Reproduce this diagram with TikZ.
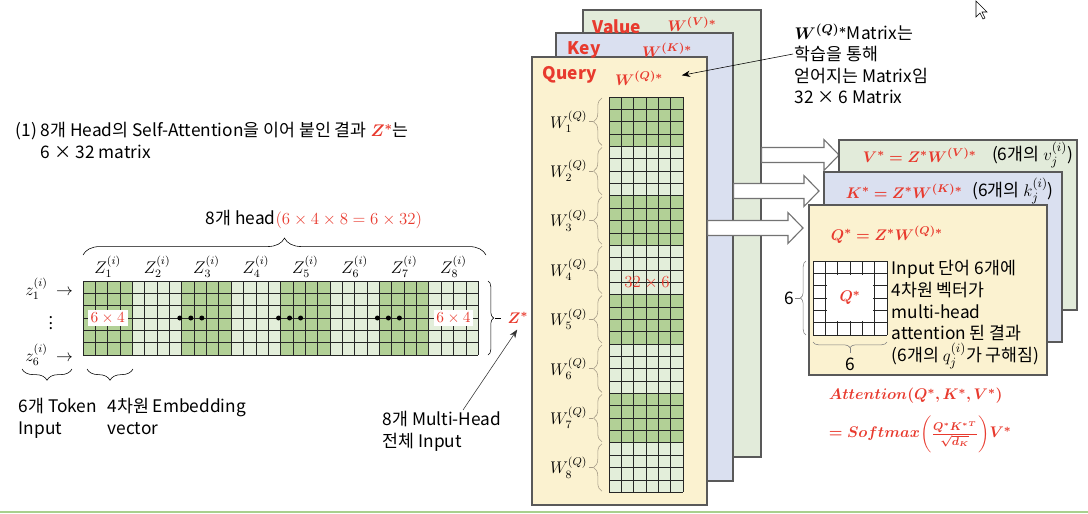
\documentclass[tikz,border=0pt]{standalone}
\usepackage{fontspec}
\setmainfont{Noto Sans CJK KR}
\usepackage{amsmath,bm}
\usetikzlibrary{positioning,arrows.meta,decorations.pathreplacing,fit,calc}

\definecolor{dkgreen}{RGB}{178,208,150}
\definecolor{ltgreen}{RGB}{227,238,218}
\definecolor{valfill}{RGB}{226,235,218}
\definecolor{keyfill}{RGB}{218,224,240}
\definecolor{qryfill}{RGB}{251,242,208}
\definecolor{hred}{RGB}{232,58,46}
\definecolor{bracegray}{RGB}{165,155,135}
\definecolor{bargreen}{RGB}{169,208,142}

\begin{document}
\begin{tikzpicture}[x=0.025cm,y=-0.025cm,font=\fontsize{12.3}{15.3}\selectfont,
  cell/.style={line width=0.5pt,black!85},
  panel/.style={draw=black!65,line width=0.9pt,inner sep=0pt},
  mathlab/.style={font=\fontsize{11.6}{13}\selectfont},
  redword/.style={text=hred,font=\fontsize{12.3}{15.3}\selectfont\bfseries},
  redmath/.style={text=hred,font=\fontsize{10.8}{13}\selectfont},
  bracedeco/.style={decorate,decoration={brace,amplitude=#1}},
  txt/.style={align=left,inner sep=1pt},
  fatarrow/.style={draw=black!55,fill=white,line width=0.8pt,
    to path={let \p1=(\tikztostart),\p2=(\tikztotarget) in
      ({\x1},{\y1+5.3pt}) -- ({\x2-10.7pt},{\y1+5.3pt}) -- ({\x2-10.7pt},{\y1+11pt})
      -- ({\x2},{\y1}) -- ({\x2-10.7pt},{\y1-11pt}) -- ({\x2-10.7pt},{\y1-5.3pt})
      -- ({\x1},{\y1-5.3pt}) -- cycle}}]
\useasboundingbox (0,0) rectangle (1088,514);

% Title on the left
\node[txt,anchor=north west] (title) at (14,121) {(1) 8개 Head의 Self-Attention을 이어 붙인 결과 \textcolor{hred}{$\bm{Z^*}$}는\\\hspace{18pt}6 × 32 matrix};

% Z* matrix: 8 heads of 4 columns, 6 rows
\foreach \h/\hcol in {0/dkgreen,1/ltgreen,2/dkgreen,3/ltgreen,4/dkgreen,5/ltgreen,6/dkgreen,7/ltgreen}
  \fill[\hcol] (83+\h*49.4,281) rectangle ++(49.4,74.1);
\foreach \c in {0,...,32}
  \draw[cell] (83+\c*12.35,281) -- ++(0,74.1);
\foreach \r in {0,...,6}
  \draw[cell] (83,281+\r*12.35) -- ++(395.2,0);
\foreach \h in {1,...,8}
  \node[mathlab] (zh\h) at (83+\h*49.4-24.7,267) {$Z_{\h}^{(i)}$};
\node[redmath,fill=white,inner sep=2pt] (blka) at (107.7,318) {$6\times4$};
\node[redmath,fill=white,inner sep=2pt] (blkb) at (453.5,318) {$6\times4$};
\foreach \b in {2,4,6}
  \foreach \d in {0,1,2}
    \fill (83+\b*49.4-2+\d*11,318) circle (2.5);

% head brace
\draw[bracedeco=12pt] (83,255) -- (486,255);
\node (headlab) at (314,219) {8개 head\textcolor{hred}{$(6\times4\times8=6\times32)$}};

% Z* brace on the right
\draw[bracedeco=4pt] (488,281) -- (488,355);
\coordinate (ztip) at (495,318);
\node[redmath] (zstar) at (518,318) {$\bm{Z^*}$};
\draw (ztip) -- ++(6,0);

% token rows
\node[mathlab,anchor=west,inner sep=0pt] (z1) at (25,289) {$z_1^{(i)}\ \rightarrow$};
\node[mathlab,inner sep=0pt] (zdots) at (51,319) {$\vdots$};
\node[mathlab,anchor=west,inner sep=0pt] (z6) at (25,355) {$z_6^{(i)}\ \rightarrow$};

% braces below
\draw[bracedeco=8pt] (72,369) -- (22,369);
\draw[bracedeco=8pt] (133,369) -- (87,369);
\node[txt,anchor=north west] (tok) at (17,397) {6개 Token\\Input};
\node[txt,anchor=north west] (emb) at (106,397) {4차원 Embedding\\vector};
\node[txt,anchor=north west] (mh) at (381,410) {8개 Multi-Head\\전체 Input};
\draw[-{Stealth[length=6pt]},black!80,shorten >=1pt] (mh.north -| 463,0) -- (zstar.south);

% W panels (Value, Key, Query)
\node[panel,fill=valfill,fit={(583,10) (761,457)}] (vpanel) {};
\node[panel,fill=keyfill,fit={(556,33) (733,481)}] (kpanel) {};
\node[panel,fill=qryfill,fit={(532,57) (707,505)}] (qpanel) {};
\node[redword,anchor=west] (vname) at (588,27) {Value};
\node[redmath] (wv) at (692,24) {$\bm{W^{(V)*}}$};
\node[redword,anchor=west] (kname) at (563,50) {Key};
\node[redmath] (wk) at (667,50) {$\bm{W^{(K)*}}$};
\node[redword,anchor=west] (qname) at (538,75) {Query};
\node[redmath] (wq) at (639,78) {$\bm{W^{(Q)*}}$};

% Query weight matrix 32 x 6
\foreach \b/\hcol in {0/dkgreen,1/ltgreen,2/dkgreen,3/ltgreen,4/dkgreen,5/ltgreen,6/dkgreen,7/ltgreen}
  \fill[\hcol] (609,97+\b*49.4) rectangle ++(74.1,49.4);
\foreach \c in {0,...,6}
  \draw[cell] (609+\c*12.35,97) -- ++(0,395.2);
\foreach \r in {0,...,32}
  \draw[cell] (609,97+\r*12.35) -- ++(74.1,0);
\node[redmath,font=\fontsize{12.5}{14}\selectfont] (qsize) at (647,283) {$32\times6$};
\foreach \k in {1,...,8} {
  \node[mathlab,anchor=east,inner sep=1pt] (w\k) at (589,{97+\k*49.4-24.7}) {$W_{\k}^{(Q)}$};
  \draw[bracegray,bracedeco=6pt] (602,{97+\k*49.4-1}) -- (602,{97+(\k-1)*49.4+1});
  \draw[bracegray] (w\k.east) -- ++(4,0);
}

% note on W^(Q)*
\node[txt,anchor=north west] (note) at (793,22) {$\bm{W^{(Q)*}}$Matrix는\\학습을 통해\\얻어지는 Matrix임\\32 × 6 Matrix};
\draw[-{Stealth[length=6pt]},shorten >=10pt] (note.west |- 0,54) -- (wq.east);

% fat arrows to the results
\draw[fatarrow] (vpanel.east |- 0,155) to (839,155);
\draw[fatarrow] (kpanel.east |- 0,191) to (819,191);
\draw[fatarrow] (qpanel.east |- 0,228) to (803,228);

% result panels
\node[panel,fill=valfill,fit={(839,140) (1077,310)}] (vout) {};
\node[panel,fill=keyfill,fit={(824,172) (1062,342)}] (kout) {};
\node[panel,fill=qryfill,fit={(809,205) (1047,375)}] (qout) {};
\node[redmath,anchor=west] (veq) at (858,155) {$\bm{V^*=Z^*W^{(V)*}}$};
\node[right=4pt of veq] (vnote) {(6개의 $v_j^{(i)}$)};
\node[redmath,anchor=west] (keq) at (841,191) {$\bm{K^*=Z^*W^{(K)*}}$};
\node[right=0pt of keq] (knote) {(6개의 $k_j^{(i)}$)};
\node[redmath,anchor=west] (qeq) at (826,235) {$\bm{Q^*=Z^*W^{(Q)*}}$};

% Q* 6 x 6
\fill[white] (813,261) rectangle ++(74.1,74.1);
\foreach \c in {0,...,6}
  \draw[cell] (813+\c*12.35,261) -- ++(0,74.1);
\foreach \r in {0,...,6}
  \draw[cell] (813,261+\r*12.35) -- ++(74.1,0);
\fill[white] (827,275) rectangle (873,321);
\node[redmath] (qstar) at (850,298) {$\bm{Q^*}$};
\draw[black!50,bracedeco=4pt] (806,335) -- (806,261);
\node (rows6) at (789,298) {6};
\draw[black!50] (795,298) -- ++(5,0);
\draw[black!50,bracedeco=4pt] (887,342) -- (813,342);
\node (cols6) at (850,364) {6};
\draw[black!50] (850,348) -- ++(0,5);
\node[txt,anchor=north west] (qtxt) at (890,259) {Input 단어 6개에\\4차원 벡터가\\multi-head\\attention 된 결과\\(6개의 $q_j^{(i)}$가 구해짐)};

% attention formula
\node[redmath,anchor=west] (attn1) at (824,396) {$\bm{Attention(Q^*,K^*,V^*)}$};
\node[redmath,anchor=west] (attn2) at (824,434) {$\bm{=Softmax}\biggl(\bm{\frac{Q^*{K^*}^T}{\sqrt{d_K}}}\biggr)\bm{V^*}$};

% cursor and bottom rule
\draw[fill=white,line width=0.4pt] (976,1) -- (976,17) -- (980,13) -- (983,19) -- (985,18) -- (982,12) -- (987,12) -- cycle;
\draw[bargreen,line width=1.5pt] (0,512) -- (1088,512);
\end{tikzpicture}
\end{document}
